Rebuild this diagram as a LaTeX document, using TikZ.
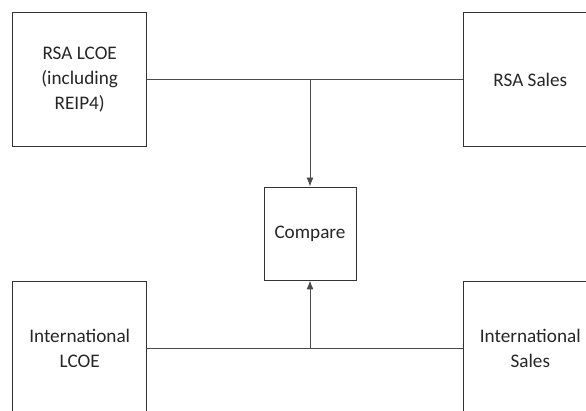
\documentclass[tikz,border=0pt]{standalone}
\usepackage{fontspec}
\setmainfont{Carlito}
\usepackage{tikz}
\usetikzlibrary{calc, positioning, arrows.meta}

\tikzset{
    hop/.style={draw=black!80, line width=0.9pt, minimum width=134pt, minimum height=134pt,
        align=center, inner sep=2pt, text=black!85, font=\fontsize{19.2}{25}\selectfont},
    hopnho/.style={hop, minimum width=92pt, minimum height=93pt},
    noi/.style={draw=black!70, line width=0.9pt}
}

\begin{document}
\begin{tikzpicture}[>={Latex[length=9pt, width=7pt]}, x=1pt, y=-1pt]
    % Khung ảnh
    \useasboundingbox (0,0) rectangle (586,411);
    \clip (0,0) rectangle (586,411);

    % Các hộp
    \node[hop] (rsalcoe) at (79.7,79.8) {RSA LCOE\\(including\\REIP4)};
    \node[hop] (rsasales) at (530.3,79.8) {RSA Sales};
    \node[hopnho] (compare) at (310,233.5) {Compare};
    \node[hop] (intlcoe) at (79.7,348.7) {International\\LCOE};
    \node[hop] (intsales) at (530.3,348.7) {International\\Sales};

    % Đường nối phía trên
    \draw[noi] (rsalcoe.east) -- (rsasales.west);
    \draw[noi, ->] (rsalcoe.east -| compare.north) -- (compare.north);

    % Đường nối phía dưới
    \draw[noi] (intlcoe.east) -- (intsales.west);
    \draw[noi, ->] (intlcoe.east -| compare.south) -- (compare.south);
\end{tikzpicture}
\end{document}
